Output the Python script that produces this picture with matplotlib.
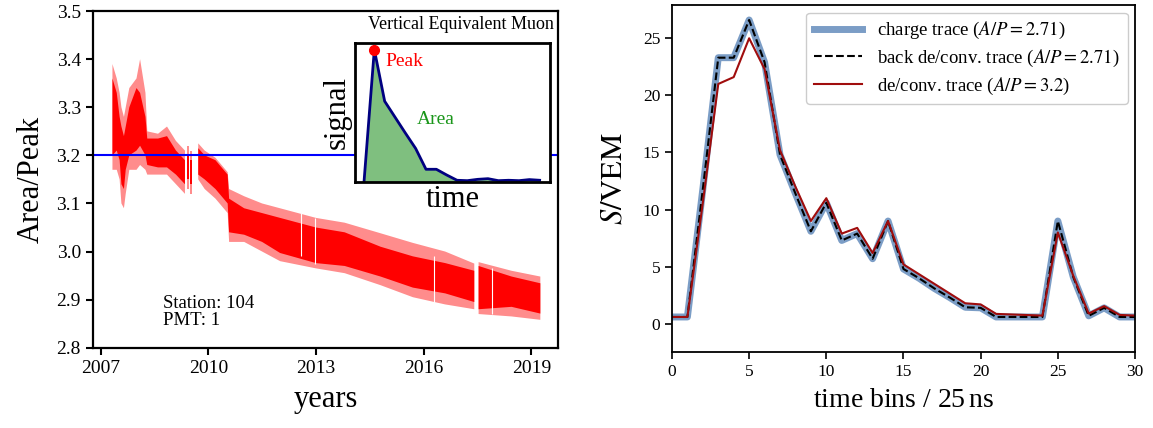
import numpy as np
import matplotlib
matplotlib.use("Agg")
import matplotlib.pyplot as plt

plt.rcParams['font.family'] = ['Liberation Serif', 'DejaVu Serif']
plt.rcParams['mathtext.fontset'] = 'stix'

# --- left: Area/Peak of the VEM over the years (cloud envelope) ---
years = [2007.33, 2007.45, 2007.53, 2007.58, 2007.65, 2007.70, 2007.80, 2008.00,
         2008.10, 2008.25, 2008.30, 2008.60, 2008.85, 2009.10, 2009.35, np.nan,
         2009.40, 2009.46, np.nan, 2009.50, 2009.56, np.nan,
         2009.72, 2009.90, 2010.20, 2010.54, 2010.58, 2011.00, 2011.50, 2012.00,
         2013.00, 2013.80, 2014.80, 2015.70, 2016.60, 2017.41, np.nan,
         2017.53, 2018.45, 2019.25]
outer_lo = [3.17, 3.17, 3.15, 3.10, 3.09, 3.12, 3.17, 3.17,
            3.18, 3.17, 3.16, 3.16, 3.16, 3.14, 3.12, np.nan,
            3.13, 3.13, np.nan, 3.12, 3.12, np.nan,
            3.15, 3.13, 3.11, 3.08, 3.02, 3.02, 3.00, 2.98,
            2.965, 2.955, 2.93, 2.905, 2.89, 2.88, np.nan,
            2.87, 2.865, 2.858]
outer_hi = [3.39, 3.36, 3.33, 3.30, 3.28, 3.30, 3.34, 3.36,
            3.40, 3.33, 3.25, 3.245, 3.26, 3.23, 3.21, np.nan,
            3.22, 3.22, np.nan, 3.21, 3.21, np.nan,
            3.225, 3.21, 3.195, 3.165, 3.13, 3.115, 3.10, 3.09,
            3.07, 3.06, 3.038, 3.018, 3.00, 2.975, np.nan,
            2.978, 2.96, 2.948]
core_lo = [3.20, 3.21, 3.19, 3.14, 3.13, 3.17, 3.20, 3.21,
           3.22, 3.20, 3.18, 3.175, 3.175, 3.16, 3.14, np.nan,
           3.15, 3.15, np.nan, 3.14, 3.14, np.nan,
           3.16, 3.15, 3.13, 3.10, 3.04, 3.035, 3.02, 2.997,
           2.976, 2.97, 2.948, 2.925, 2.913, 2.895, np.nan,
           2.88, 2.885, 2.871]
core_hi = [3.36, 3.33, 3.28, 3.26, 3.24, 3.26, 3.30, 3.34,
           3.33, 3.28, 3.235, 3.235, 3.24, 3.21, 3.19, np.nan,
           3.20, 3.20, np.nan, 3.19, 3.19, np.nan,
           3.215, 3.20, 3.19, 3.16, 3.11, 3.09, 3.08, 3.07,
           3.05, 3.04, 3.01, 2.99, 2.976, 2.96, np.nan,
           2.97, 2.948, 2.934]
gap_years = [2012.59, 2012.96, 2016.28, 2017.90]
gap_lo = [2.99, 2.975, 2.89, 2.87]
gap_hi = [3.08, 3.07, 2.99, 2.965]
vem_ap = 3.2

# inset: sketch of a VEM trace
inset_t = list(range(18))
inset_sig = [0, 1.0, 0.61, 0.49, 0.37, 0.253, 0.096, 0.096, 0.053, 0.013,
             0.01, 0.02, 0.025, 0.01, 0.013, 0.01, 0.018, 0.013]

# --- right: traces in VEM per 25 ns bin ---
bins = list(range(31))
charge = [0.6, 0.6, 11.8, 23.3, 23.3, 26.6, 22.9, 14.8, 11.4, 8.1, 10.6,
          7.3, 7.9, 5.7, 9.0, 4.8, 4.0, 3.1, 2.3, 1.45, 1.4, 0.6, 0.6,
          0.6, 0.6, 9.0, 4.1, 0.7, 1.4, 0.6, 0.6]
back_deconv = [0.6, 0.6, 11.8, 23.3, 23.3, 26.6, 22.9, 14.8, 11.4, 8.1, 10.6,
               7.3, 7.9, 5.7, 9.0, 4.8, 4.0, 3.1, 2.3, 1.45, 1.4, 0.6, 0.6,
               0.6, 0.6, 9.0, 4.1, 0.7, 1.4, 0.6, 0.6]
deconv = [0.6, 0.6, 10.6, 21.0, 21.6, 25.0, 22.3, 15.2, 12.0, 9.0, 11.0,
          7.9, 8.4, 6.2, 9.0, 5.2, 4.35, 3.5, 2.65, 1.8, 1.7, 0.87, 0.82,
          0.77, 0.72, 8.0, 4.2, 0.9, 1.55, 0.78, 0.72]

fig = plt.figure(figsize=(11.53, 4.28), dpi=100)

ax1 = fig.add_axes([0.0804, 0.1876, 0.4038, 0.7864])
ax1.fill_between(years, outer_lo, outer_hi, color='red', alpha=0.45, lw=0)
ax1.fill_between(years, core_lo, core_hi, color='red', lw=0)
ax1.vlines(gap_years, gap_lo, gap_hi, colors='white', lw=0.8)
ax1.axhline(vem_ap, color='blue', lw=1.5)
ax1.set_xlim(2006.78, 2019.75)
ax1.set_ylim(2.8, 3.5)
ax1.set_xticks([2007, 2010, 2013, 2016, 2019])
ax1.set_yticks(np.arange(2.8, 3.51, 0.1))
ax1.yaxis.set_major_formatter(matplotlib.ticker.FormatStrFormatter('%.1f'))
ax1.tick_params(labelsize=14, width=1.5, length=5)
for s in ax1.spines.values():
    s.set_linewidth(1.6)
ax1.set_xlabel('years', fontsize=22, labelpad=6)
ax1.set_ylabel('Area/Peak', fontsize=22, labelpad=8)
ax1.text(0.151, 0.055, 'Station: 104\nPMT: 1', transform=ax1.transAxes,
         fontsize=13.5, va='bottom', ha='left', linespacing=1.0)
ax1.text(0.99, 0.985, 'Vertical Equivalent Muon', transform=ax1.transAxes,
         fontsize=13, va='top', ha='right')

ax_in = fig.add_axes([0.3079, 0.5748, 0.1691, 0.3248])
ax_in.fill_between(inset_t, inset_sig, color='green', alpha=0.5, lw=0)
ax_in.plot(inset_t, inset_sig, color='#000080', lw=2)
ax_in.plot(inset_t[1], inset_sig[1], 'o', color='red', ms=7, zorder=5)
ax_in.set_xlim(-0.87, 18.0)
ax_in.set_ylim(0, 1.05)
ax_in.set_xticks([])
ax_in.set_yticks([])
for s in ax_in.spines.values():
    s.set_linewidth(2)
ax_in.set_xlabel('time', fontsize=22, labelpad=2)
ax_in.set_ylabel('signal', fontsize=22, labelpad=2)
ax_in.text(0.154, 0.87, 'Peak', color='red', fontsize=14,
           transform=ax_in.transAxes, va='center')
ax_in.text(0.318, 0.453, 'Area', color='#1a961a', fontsize=14,
           transform=ax_in.transAxes, va='center')

ax2 = fig.add_axes([0.5828, 0.178, 0.4016, 0.81])
ax2.plot(bins, charge, color='#7b9dc6', lw=5, label=r'charge trace ($A/P = 2.71$)')
ax2.plot(bins, back_deconv, color='black', lw=1.5, ls='--',
         label=r'back de/conv. trace ($A/P = 2.71$)')
ax2.plot(bins, deconv, color='#a00d0d', lw=1.5, label=r'de/conv. trace ($A/P = 3.2$)')
ax2.set_xlim(0, 30)
ax2.set_ylim(-2.45, 27.9)
ax2.set_xticks([0, 5, 10, 15, 20, 25, 30])
ax2.set_yticks([0, 5, 10, 15, 20, 25])
ax2.tick_params(labelsize=12.5, width=1.2, length=5)
for s in ax2.spines.values():
    s.set_linewidth(1.3)
ax2.set_xlabel(r'time bins / 25$\,$ns', fontsize=20, labelpad=6)
ax2.set_ylabel(r'$S/\mathrm{VEM}$', fontsize=22, labelpad=10)
ax2.legend(loc='upper right', fontsize=13.5, handlelength=2.6,
           labelspacing=0.35, borderaxespad=0.4, edgecolor='#cccccc',
           framealpha=1)

fig.savefig('out.png', dpi=100)
